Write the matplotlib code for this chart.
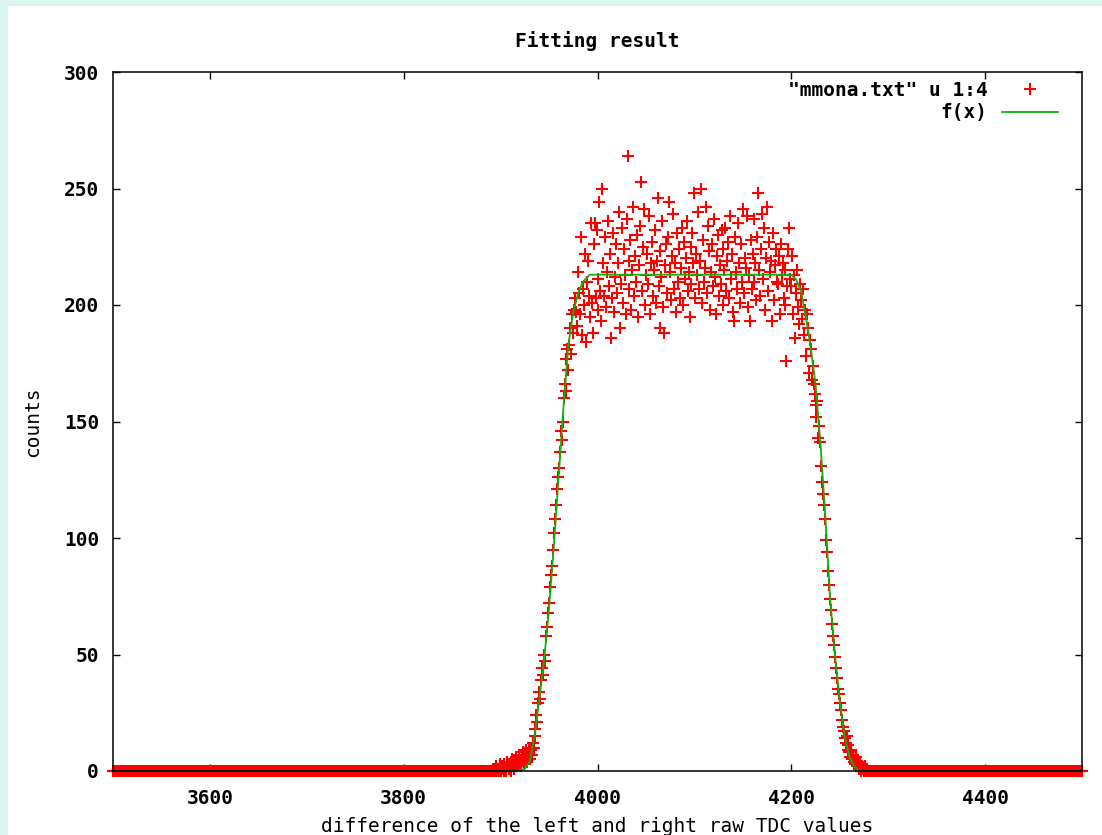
import numpy as np
import matplotlib
matplotlib.use("Agg")
import matplotlib.pyplot as plt
from matplotlib.patches import Rectangle

# TDC difference values start at 3500, one count per integer channel
x_start = 3500

zeros_left = [0] * 390  # 3500 .. 3889

toe_left = [  # 3890 .. 3929
    0, 0, 1, 0, 0, 2, 0, 1, 0, 3,
    0, 2, 1, 0, 3, 1, 0, 4, 2, 1,
    3, 0, 5, 2, 1, 4, 6, 2, 3, 7,
    4, 2, 6, 8, 3, 5, 9, 4, 7, 10,
]

rise = [  # 3930 .. 3995
    5, 9, 7, 12, 10, 18, 15, 24, 21, 29,
    34, 31, 39, 44, 41, 50, 47, 58, 62, 68,
    72, 79, 84, 88, 95, 102, 108, 114, 121, 126,
    130, 137, 146, 142, 150, 160, 166, 163, 177, 181,
    172, 183, 190, 179, 196, 188, 198, 203, 197, 191,
    214, 205, 196, 229, 187, 207, 200, 222, 184, 210,
    219, 204, 195, 235, 201, 188,
]

plateau = [  # 3996 .. 4199
    226, 235, 203, 232, 198, 211, 244, 206, 193, 250,
    218, 204, 229, 199, 214, 236, 208, 222, 186, 203,
    231, 197, 212, 226, 205, 218, 240, 190, 209, 233,
    201, 224, 213, 196, 237, 264, 207, 219, 228, 198,
    215, 242, 204, 221, 210, 230, 195, 217, 234, 253,
    206, 225, 241, 200, 213, 222, 209, 238, 196, 218,
    227, 204, 215, 232, 201, 219, 246, 208, 190, 223,
    212, 236, 199, 188, 217, 226, 205, 229, 244, 214,
    202, 221, 239, 207, 218, 197, 231, 210, 224, 203,
    216, 233, 200, 227, 211, 220, 236, 206, 214, 195,
    225, 209, 231, 218, 248, 203, 222, 213, 240, 207,
    219, 250, 201, 228, 210, 216, 242, 205, 234, 223,
    198, 214, 226, 208, 237, 212, 196, 221, 230, 204,
    217, 209, 232, 200, 224, 215, 233, 206, 219, 227,
    203, 238, 211, 222, 197, 193, 229, 214, 207, 235,
    218, 201, 226, 210, 241, 205, 220, 216, 238, 199,
    213, 193, 228, 207, 222, 237, 210, 218, 202, 229,
    248, 215, 204, 224, 239, 211, 233, 198, 220, 242,
    206, 227, 214, 219, 193, 231, 202, 217, 224, 210,
    209, 221, 196, 226, 213, 218, 203, 215, 200, 176,
    208, 224, 233, 211,
]

fall = [  # 4200 .. 4279
    208, 221, 196, 213, 186, 205, 215, 199, 192, 209,
    202, 194, 207, 187, 198, 178, 196, 190, 171, 185,
    181, 168, 174, 166, 162, 157, 152, 159, 143, 148,
    141, 131, 124, 119, 114, 108, 99, 94, 86, 80,
    74, 69, 63, 58, 54, 49, 44, 40, 35, 33,
    29, 26, 22, 19, 17, 14, 12, 15, 9, 11,
    8, 6, 9, 5, 7, 4, 3, 6, 2, 4,
    1, 3, 0, 2, 1, 0, 2, 0, 1, 0,
]

zeros_right = [0] * 221  # 4280 .. 4500

counts = zeros_left + toe_left + rise + plateau + fall + zeros_right
x = x_start + np.arange(len(counts))

# fitted function f(x)
fit_x = [3500, 3918, 3925, 3930, 3935, 3940, 3945, 3950, 3955, 3960, 3965,
         3970, 3975, 3980, 3985, 3992, 4200, 4205, 4210, 4215, 4220, 4225,
         4230, 4235, 4240, 4245, 4250, 4255, 4260, 4265, 4270, 4500]
fit_y = [0, 0, 1, 4, 15, 31, 48, 70, 97, 127, 157,
         183, 197, 205, 210, 213, 213, 211, 206, 195, 182, 166,
         141, 110, 74, 50, 30, 15, 6, 2, 0, 0]

xticks = [3600, 3800, 4000, 4200, 4400]
yticks = [0, 50, 100, 150, 200, 250, 300]

plt.rcParams['font.family'] = ['DejaVu Sans Mono']
plt.rcParams['font.weight'] = 'bold'
plt.rcParams['font.size'] = 14

fig = plt.figure(figsize=(11.02, 8.35), dpi=100, facecolor='#daf4f0')
fig.patches.append(Rectangle((8 / 1102, 0), 1, 1 - 6 / 835, transform=fig.transFigure,
                             facecolor='white', edgecolor='none', zorder=-1))

ax = fig.add_axes([113 / 1102, 64 / 835, 969 / 1102, 699 / 835])
ax.plot(x, counts, '+', color='#ff0000', ms=8.5, mew=1.5, clip_on=False,
        label='"mmona.txt" u 1:4')
ax.plot(fit_x, fit_y, '-', color='#10b010', lw=1.3, label='f(x)')

ax.set_xlim(3500, 4500)
ax.set_ylim(0, 300)
ax.set_xticks(xticks)
ax.set_yticks(yticks)
ax.tick_params(direction='in', length=5, width=1, top=True, right=True)
ax.tick_params(axis='x', pad=13)
ax.tick_params(axis='y', pad=10)
for sp in ax.spines.values():
    sp.set_linewidth(1.1)
    sp.set_zorder(3)

ax.set_title('Fitting result', pad=18, fontsize=14, fontweight='bold')
ax.set_xlabel('difference of the left and right raw TDC values')
ax.set_ylabel('counts')
ax.xaxis.set_label_coords(0.5, -0.066)
ax.yaxis.set_label_coords(-0.073, 0.5)

ax.legend(loc='upper right', bbox_to_anchor=(1 - 8 / 969, 1 + 7 / 699),
          frameon=False, markerfirst=False, handlelength=2.9,
          handletextpad=0.75, labelspacing=0.2, borderaxespad=0.3, borderpad=0.5)

fig.savefig('out.png', dpi=100)
